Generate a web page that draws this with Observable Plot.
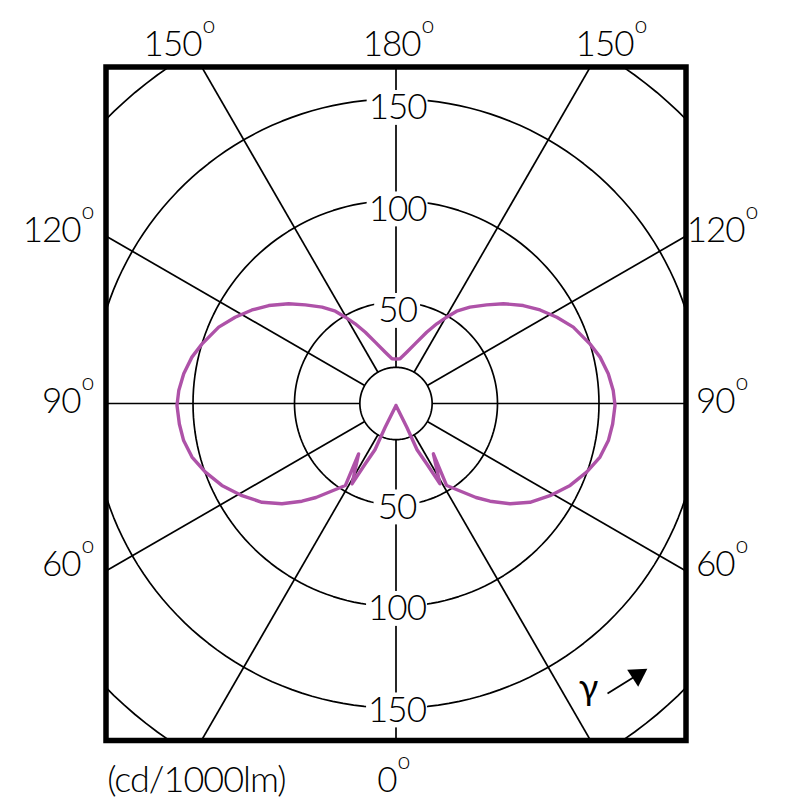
<!DOCTYPE html>
<html>
<head>
<meta charset="utf-8">
<script src="https://cdn.jsdelivr.net/npm/d3@7"></script>
<script src="https://cdn.jsdelivr.net/npm/@observablehq/plot@0.6"></script>
<style>
  html, body { margin: 0; padding: 0; background: #fff; }
  svg { display: block; }
  svg text { letter-spacing: -1px; }
</style>
</head>
<body>
<script>
// ---- data, C0 half-plane; C180 is the mirror image ----
const gamma = [180, 174.9, 168.2, 161.3, 156.7, 152.9, 149.6, 146.7, 142.5, 137.4,
  132.9, 127.6, 123, 118.2, 113.3, 107, 102.8, 98, 93.4, 89.5,
  84.6, 80.1, 75.3, 70.2, 64.8, 59.1, 53.6, 48.7, 43.9, 40.4,
  31.7, 36.6, 28.7, 27, 24.5, 24.5, 0];
const intensity = [21.9, 22.1, 25.8, 31.9, 38.2, 44.1, 49.3, 54.4, 59.8, 66.0,
  72.2, 79.1, 84.6, 89.9, 95.1, 100, 103.1, 105.6, 107.2, 107.9,
  107.2, 106.2, 103.9, 99.8, 94.8, 88.4, 82, 74.8, 66.8, 60.8,
  47.5, 30.9, 45.1, 33.3, 25, 13, 1];

const ringValues = [50, 100, 150, 200];
const innerRing = 17.8;
const ringLabels = [50, 100, 150];
const spokeAngles = [0, 30, 60, 90, 120, 150, 180, 210, 240, 270, 300, 330];

// angle labels (text, placement in data units)
const angleLabels = [
  {t: "150", x: -95.8, y: 176.8},
  {t: "180", x: 12.1, y: 176.8},
  {t: "150", x: 117.0, y: 176.8},
  {t: "120", x: -155.4, y: 85.2},
  {t: "90", x: -155.4, y: 1.0},
  {t: "60", x: -155.4, y: -79.3},
  {t: "120", x: 171.7, y: 85.2},
  {t: "90", x: 166.8, y: 1.0},
  {t: "60", x: 166.8, y: -79.3},
  {t: "0", x: 0.3, y: -185.7}
];
const unitLabel = "(cd/1000lm)";
const gammaLabel = "γ";

// ---- geometry helpers (polar -> cartesian, γ = 0 pointing down) ----
const rad = d => d * Math.PI / 180;
const pt = (g, r, side = 1) => ({x: side * r * Math.sin(rad(g)), y: -r * Math.cos(rad(g))});

const curve = [
  ...gamma.map((g, i) => pt(g, intensity[i], -1)).reverse(),
  ...gamma.map((g, i) => pt(g, intensity[i], 1))
];

const circles = [innerRing, ...ringValues].flatMap(r =>
  d3.range(0, 361, 2).map(a => ({...pt(a, r), r})));

const spokes = spokeAngles.map(a => {
  const p1 = pt(a, innerRing), p2 = pt(a, 420);
  return {x1: p1.x, y1: p1.y, x2: p2.x, y2: p2.y};
});

const ringText = [
  ...ringLabels.map(v => ({t: String(v), x: 0.8, y: v - 4.4})),
  ...ringLabels.map(v => ({t: String(v), x: 0.5, y: -(v + 1.2)}))
];
// white knock-out box behind each ring label (half sizes in data units)
const boxes = ringText.map(d => {
  const hw = d.t.length === 2 ? 11.3 : 15.0;
  const hh = 8.6;
  return {x1: d.x - hw, x2: d.x + hw, y1: d.y - hh, y2: d.y + hh};
});

const font = "Lato, 'Open Sans', sans-serif";

const plot = Plot.plot({
  width: 800,
  height: 800,
  marginLeft: 105.5,
  marginRight: 114.5,
  marginTop: 66.5,
  marginBottom: 60,
  x: {domain: [-142.86, 142.86], axis: null},
  y: {domain: [-166.01, 165.76], axis: null},
  style: {fontFamily: font, background: "white"},
  marks: [
    Plot.line(circles, {x: "x", y: "y", z: "r", stroke: "black", strokeWidth: 1.7, clip: true}),
    Plot.link(spokes, {x1: "x1", y1: "y1", x2: "x2", y2: "y2", stroke: "black", strokeWidth: 1.7, clip: true}),
    Plot.rect(boxes, {x1: "x1", x2: "x2", y1: "y1", y2: "y2", fill: "white"}),
    Plot.text(ringText, {x: "x", y: "y", text: "t", fontSize: 35, fontWeight: 300,
      fill: "black", textAnchor: "middle", lineAnchor: "middle"}),
    Plot.line(curve, {x: "x", y: "y", stroke: "#ae52a8", strokeWidth: 3.4, strokeLinejoin: "round", curve: "linear"}),
    Plot.frame({stroke: "black", strokeWidth: 5.5}),
    Plot.text(angleLabels, {x: "x", y: "y", text: "t", fontSize: 35, fontWeight: 300,
      fill: "black", textAnchor: "end", lineAnchor: "middle"}),
    Plot.text(angleLabels, {x: "x", y: "y", text: () => "o", fontSize: 23, fontWeight: 300,
      fill: "black", textAnchor: "start", lineAnchor: "middle", dx: 1, dy: -19}),
    Plot.text([unitLabel], {x: -142.3, y: -185.7, text: d => d, fontSize: 36, fontWeight: 300,
      fill: "black", textAnchor: "start", lineAnchor: "middle"}),
    Plot.text([gammaLabel], {x: 94.6, y: -140.4, text: d => d, fontSize: 36, fontWeight: 400,
      fill: "black", textAnchor: "middle", lineAnchor: "middle"}),
    Plot.link([{x1: 104.2, y1: -142.9, x2: 117.5, y2: -134.6}], {x1: "x1", y1: "y1", x2: "x2", y2: "y2",
      stroke: "black", strokeWidth: 1.8}),
    Plot.dot([{x: 119.0, y: -133.8}], {x: "x", y: "y", symbol: "triangle", r: 7.5, rotate: 57,
      fill: "black", stroke: "none"})
  ]
});

document.body.appendChild(plot);
</script>
</body>
</html>
